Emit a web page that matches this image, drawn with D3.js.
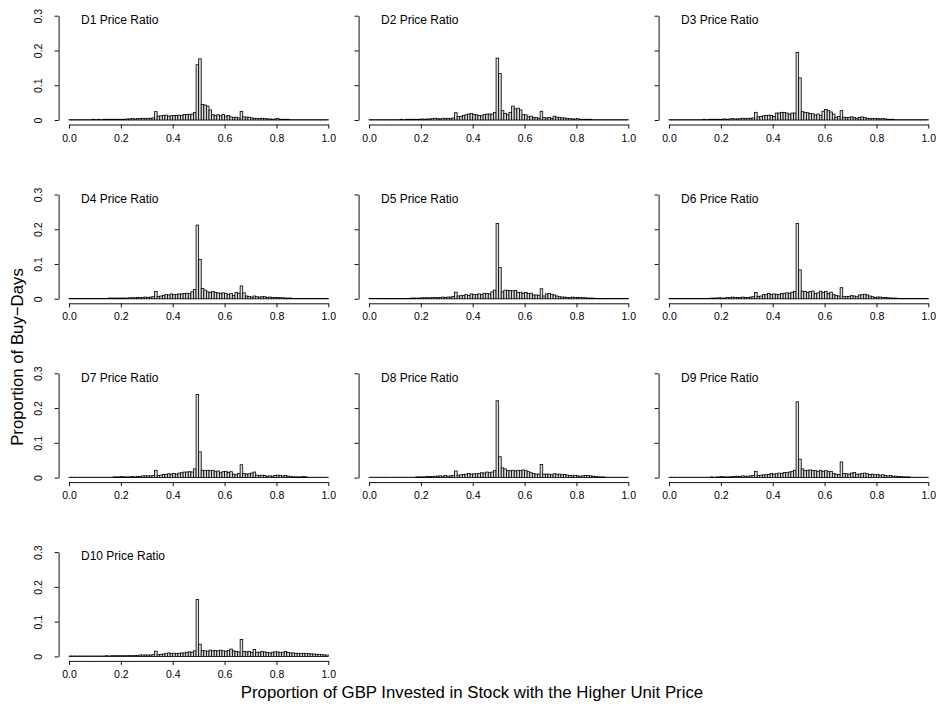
<!DOCTYPE html>
<html>
<head>
<meta charset="utf-8">
<script src="https://cdn.jsdelivr.net/npm/d3@7"></script>
<style>
  html, body { margin: 0; padding: 0; background: #fff; }
  svg { display: block; font-family: "Liberation Sans", Arial, Helvetica, sans-serif; }
</style>
</head>
<body>
<svg id="chart" width="938" height="710"></svg>
<script>
// Histogram bin proportions, 100 bins of width 0.01 over [0, 1]
const d1 = [0.001,0.001,0.001,0.001,0.001,0.001,0.001,0.001,0.001,0.002,
  0.001,0.002,0.001,0.002,0.002,0.002,0.002,0.002,0.002,0.002,
  0.002,0.002,0.003,0.003,0.004,0.003,0.004,0.004,0.005,0.004,
  0.005,0.005,0.006,0.024,0.011,0.012,0.013,0.014,0.011,0.012,
  0.013,0.013,0.014,0.013,0.016,0.016,0.016,0.017,0.022,0.159,
  0.176,0.045,0.043,0.040,0.029,0.015,0.013,0.015,0.012,0.016,
  0.011,0.013,0.009,0.007,0.008,0.006,0.025,0.009,0.008,0.008,
  0.006,0.005,0.004,0.004,0.005,0.004,0.003,0.003,0.002,0.003,
  0.004,0.002,0.002,0.002,0.002,0.001,0.001,0.001,0.001,0.001,
  0.001,0.001,0.001,0.001,0.001,0.001,0.001,0.001,0.001,0.001];
const d2 = [0.001,0.001,0.001,0.001,0.001,0.001,0.001,0.001,0.001,0.001,
  0.001,0.001,0.002,0.001,0.002,0.002,0.002,0.002,0.002,0.002,
  0.003,0.002,0.003,0.003,0.004,0.005,0.004,0.003,0.005,0.004,
  0.005,0.004,0.006,0.021,0.010,0.010,0.013,0.015,0.017,0.019,
  0.016,0.015,0.013,0.012,0.016,0.017,0.017,0.017,0.022,0.178,
  0.134,0.027,0.019,0.015,0.022,0.040,0.032,0.034,0.029,0.015,
  0.015,0.009,0.011,0.007,0.007,0.005,0.025,0.007,0.006,0.007,
  0.005,0.011,0.008,0.007,0.006,0.006,0.004,0.004,0.003,0.003,
  0.004,0.002,0.002,0.002,0.002,0.002,0.001,0.001,0.001,0.001,
  0.001,0.001,0.001,0.001,0.001,0.001,0.001,0.001,0.001,0.001];
const d3v = [0.001,0.001,0.001,0.001,0.001,0.001,0.001,0.001,0.001,0.001,
  0.001,0.001,0.001,0.002,0.001,0.002,0.002,0.002,0.002,0.002,
  0.002,0.003,0.002,0.003,0.004,0.003,0.003,0.004,0.005,0.004,
  0.005,0.005,0.006,0.022,0.009,0.010,0.012,0.013,0.014,0.013,
  0.010,0.020,0.020,0.022,0.022,0.020,0.017,0.020,0.020,0.194,
  0.121,0.024,0.022,0.021,0.019,0.018,0.014,0.017,0.013,0.025,
  0.030,0.027,0.023,0.017,0.008,0.010,0.027,0.008,0.007,0.007,
  0.009,0.007,0.005,0.007,0.009,0.007,0.005,0.004,0.004,0.004,
  0.004,0.003,0.004,0.003,0.002,0.002,0.002,0.001,0.001,0.001,
  0.001,0.001,0.001,0.001,0.001,0.001,0.001,0.001,0.001,0.001];
const d4 = [0.001,0.001,0.001,0.001,0.001,0.001,0.001,0.001,0.001,0.001,
  0.001,0.001,0.001,0.001,0.001,0.002,0.002,0.002,0.002,0.002,
  0.002,0.002,0.002,0.003,0.003,0.003,0.004,0.003,0.004,0.005,
  0.004,0.005,0.006,0.021,0.007,0.008,0.010,0.012,0.011,0.014,
  0.012,0.013,0.014,0.014,0.015,0.016,0.015,0.020,0.027,0.212,
  0.113,0.030,0.025,0.020,0.018,0.021,0.018,0.017,0.016,0.017,
  0.016,0.012,0.015,0.010,0.018,0.016,0.037,0.017,0.008,0.007,
  0.005,0.008,0.006,0.005,0.006,0.006,0.004,0.005,0.004,0.004,
  0.004,0.003,0.003,0.002,0.002,0.002,0.001,0.001,0.001,0.001,
  0.001,0.001,0.001,0.001,0.001,0.001,0.001,0.001,0.001,0.001];
const d5 = [0.001,0.001,0.001,0.001,0.001,0.001,0.001,0.001,0.001,0.001,
  0.001,0.001,0.001,0.001,0.001,0.001,0.002,0.002,0.002,0.002,
  0.003,0.003,0.003,0.003,0.003,0.004,0.003,0.004,0.005,0.004,
  0.005,0.005,0.007,0.019,0.008,0.009,0.010,0.012,0.010,0.014,
  0.012,0.012,0.014,0.012,0.016,0.015,0.014,0.020,0.025,0.217,
  0.090,0.020,0.025,0.024,0.024,0.023,0.024,0.018,0.019,0.015,
  0.018,0.015,0.016,0.011,0.011,0.010,0.029,0.008,0.014,0.015,
  0.013,0.011,0.008,0.006,0.005,0.005,0.004,0.004,0.005,0.004,
  0.004,0.004,0.003,0.003,0.002,0.002,0.002,0.001,0.001,0.001,
  0.001,0.001,0.001,0.001,0.001,0.001,0.001,0.001,0.001,0.001];
const d6 = [0.001,0.001,0.001,0.001,0.001,0.001,0.001,0.001,0.001,0.001,
  0.001,0.001,0.001,0.001,0.001,0.001,0.002,0.002,0.002,0.003,
  0.002,0.002,0.004,0.004,0.005,0.004,0.004,0.004,0.005,0.004,
  0.004,0.005,0.006,0.018,0.007,0.008,0.012,0.012,0.015,0.012,
  0.014,0.013,0.012,0.015,0.016,0.017,0.016,0.019,0.021,0.217,
  0.083,0.022,0.021,0.018,0.021,0.022,0.015,0.017,0.022,0.018,
  0.021,0.015,0.019,0.012,0.010,0.008,0.032,0.007,0.007,0.007,
  0.009,0.008,0.006,0.011,0.012,0.013,0.011,0.008,0.006,0.004,
  0.005,0.005,0.004,0.004,0.003,0.002,0.002,0.002,0.001,0.001,
  0.001,0.001,0.001,0.001,0.001,0.001,0.001,0.001,0.001,0.001];
const d7 = [0.001,0.001,0.001,0.001,0.001,0.001,0.001,0.001,0.001,0.001,
  0.001,0.001,0.001,0.001,0.001,0.001,0.001,0.002,0.002,0.002,
  0.003,0.002,0.002,0.002,0.003,0.002,0.003,0.003,0.005,0.005,
  0.005,0.005,0.006,0.021,0.006,0.007,0.009,0.009,0.011,0.010,
  0.012,0.010,0.013,0.014,0.016,0.016,0.017,0.016,0.025,0.239,
  0.074,0.021,0.020,0.021,0.020,0.021,0.017,0.019,0.014,0.017,
  0.018,0.015,0.017,0.010,0.008,0.012,0.037,0.012,0.010,0.011,
  0.013,0.016,0.007,0.006,0.007,0.006,0.004,0.005,0.004,0.006,
  0.007,0.006,0.005,0.006,0.004,0.003,0.002,0.002,0.002,0.002,
  0.003,0.002,0.001,0.001,0.001,0.001,0.001,0.001,0.001,0.001];
const d8 = [0.001,0.001,0.001,0.001,0.001,0.001,0.001,0.001,0.001,0.001,
  0.001,0.001,0.001,0.001,0.001,0.001,0.001,0.001,0.002,0.002,
  0.002,0.002,0.003,0.003,0.003,0.004,0.004,0.005,0.004,0.006,
  0.004,0.005,0.006,0.019,0.007,0.008,0.009,0.010,0.012,0.010,
  0.011,0.011,0.012,0.014,0.013,0.016,0.014,0.016,0.020,0.221,
  0.060,0.028,0.025,0.020,0.020,0.021,0.019,0.021,0.020,0.022,
  0.020,0.017,0.014,0.012,0.010,0.010,0.038,0.010,0.010,0.010,
  0.008,0.011,0.010,0.010,0.008,0.009,0.007,0.006,0.005,0.006,
  0.005,0.004,0.005,0.006,0.006,0.005,0.004,0.003,0.002,0.002,
  0.002,0.001,0.001,0.001,0.001,0.001,0.001,0.001,0.001,0.001];
const d9 = [0.001,0.001,0.001,0.001,0.001,0.001,0.001,0.001,0.001,0.001,
  0.001,0.001,0.001,0.001,0.001,0.001,0.002,0.001,0.002,0.002,
  0.003,0.002,0.002,0.002,0.003,0.003,0.004,0.003,0.005,0.004,
  0.004,0.005,0.006,0.018,0.006,0.007,0.008,0.008,0.009,0.012,
  0.010,0.011,0.013,0.012,0.015,0.014,0.016,0.018,0.021,0.218,
  0.053,0.025,0.020,0.021,0.022,0.020,0.020,0.018,0.021,0.018,
  0.020,0.017,0.018,0.012,0.010,0.009,0.045,0.012,0.011,0.010,
  0.013,0.015,0.010,0.010,0.012,0.013,0.011,0.009,0.010,0.008,
  0.009,0.007,0.008,0.006,0.005,0.006,0.004,0.004,0.003,0.003,
  0.002,0.002,0.002,0.001,0.001,0.001,0.001,0.001,0.001,0.001];
const d10 = [0.001,0.001,0.001,0.001,0.001,0.001,0.001,0.001,0.001,0.001,
  0.001,0.001,0.001,0.001,0.002,0.001,0.002,0.002,0.002,0.002,
  0.002,0.002,0.002,0.003,0.002,0.003,0.003,0.004,0.004,0.004,
  0.004,0.004,0.005,0.015,0.005,0.006,0.007,0.008,0.010,0.008,
  0.009,0.008,0.009,0.010,0.010,0.012,0.013,0.012,0.016,0.164,
  0.035,0.017,0.016,0.015,0.018,0.016,0.017,0.016,0.018,0.016,
  0.015,0.017,0.021,0.016,0.014,0.013,0.049,0.014,0.013,0.014,
  0.011,0.020,0.012,0.012,0.014,0.013,0.011,0.010,0.012,0.013,
  0.013,0.011,0.012,0.014,0.011,0.010,0.010,0.009,0.009,0.008,
  0.009,0.008,0.008,0.007,0.007,0.006,0.006,0.005,0.004,0.004];

const panelNames = ["D1 Price Ratio", "D2 Price Ratio", "D3 Price Ratio", "D4 Price Ratio",
  "D5 Price Ratio", "D6 Price Ratio", "D7 Price Ratio", "D8 Price Ratio",
  "D9 Price Ratio", "D10 Price Ratio"];
const panelSeries = [d1, d2, d3v, d4, d5, d6, d7, d8, d9, d10];
const xTicks = [0, 0.2, 0.4, 0.6, 0.8, 1.0];
const xTickLabels = ["0.0", "0.2", "0.4", "0.6", "0.8", "1.0"];
const yTicks = [0, 0.1, 0.2, 0.3];
const yTickLabels = ["0", "0.1", "0.2", "0.3"];
const binWidth = 0.01;

const xTitle = "Proportion of GBP Invested in Stock with the Higher Unit Price";
const yTitle = "Proportion of Buy\u2212Days";

// Grid geometry: 4 rows by 3 columns of panels
const colX0 = 69, colStep = 300, panelW = 259.3;
const rowY0 = 120, rowStep = 178.8, panelH = 104.3;
const axisGapX = 10.4, axisGapY = 4.5, tickLen = 4;
const tickFont = 10.5;

const svg = d3.select("#chart");
const ink = "#111";

panelSeries.forEach((vals, k) => {
  const r = Math.floor(k / 3), c = k % 3;
  const x0 = colX0 + c * colStep;
  const y0 = rowY0 + r * rowStep;
  const x = d3.scaleLinear().domain([0, 1]).range([x0, x0 + panelW]);
  const y = d3.scaleLinear().domain([0, 0.3]).range([y0, y0 - panelH]);
  const g = svg.append("g");

  // Bars
  g.selectAll("rect").data(vals).join("rect")
    .attr("x", (v, i) => x(i * binWidth))
    .attr("width", (v, i) => x((i + 1) * binWidth) - x(i * binWidth))
    .attr("y", v => y(v))
    .attr("height", v => y(0) - y(v))
    .attr("fill", "#d9d9d9")
    .attr("stroke", "#000")
    .attr("stroke-width", 0.8);

  // x axis
  const xa = g.append("g")
    .attr("transform", `translate(0,${y0 + axisGapY})`)
    .call(d3.axisBottom(x).tickValues(xTicks)
      .tickFormat((d, i) => xTickLabels[i])
      .tickSize(tickLen).tickSizeOuter(0));
  xa.select(".domain").attr("stroke", ink);
  xa.selectAll(".tick line").attr("stroke", ink);
  xa.selectAll(".tick text")
    .attr("y", 17).attr("dy", 0)
    .attr("font-size", tickFont)
    .attr("font-family", "Liberation Sans, Arial, sans-serif")
    .attr("fill", "#000");

  // y axis
  const ya = g.append("g")
    .attr("transform", `translate(${x0 - axisGapX},0)`)
    .call(d3.axisLeft(y).tickValues(yTicks)
      .tickFormat((d, i) => yTickLabels[i])
      .tickSize(tickLen).tickSizeOuter(0));
  ya.select(".domain").attr("stroke", ink);
  ya.selectAll(".tick line").attr("stroke", ink);
  const yt = ya.selectAll(".tick text")
    .attr("x", null).attr("dy", 0)
    .attr("transform", "translate(-16.6,0) rotate(-90)")
    .attr("text-anchor", "middle")
    .attr("font-size", tickFont)
    .attr("font-family", "Liberation Sans, Arial, sans-serif")
    .attr("fill", "#000");
  if (c !== 0) yt.remove();

  // Panel title
  g.append("text")
    .attr("x", x0 + 12)
    .attr("y", y0 - 96)
    .attr("font-size", 12)
    .attr("fill", "#000")
    .text(panelNames[k]);
});

// Shared axis titles
svg.append("text")
  .attr("x", 472).attr("y", 698)
  .attr("text-anchor", "middle")
  .attr("font-size", 16.8)
  .attr("fill", "#000")
  .text(xTitle);

svg.append("text")
  .attr("transform", "translate(23,357) rotate(-90)")
  .attr("text-anchor", "middle")
  .attr("font-size", 16.8)
  .attr("fill", "#000")
  .text(yTitle);
</script>
</body>
</html>
